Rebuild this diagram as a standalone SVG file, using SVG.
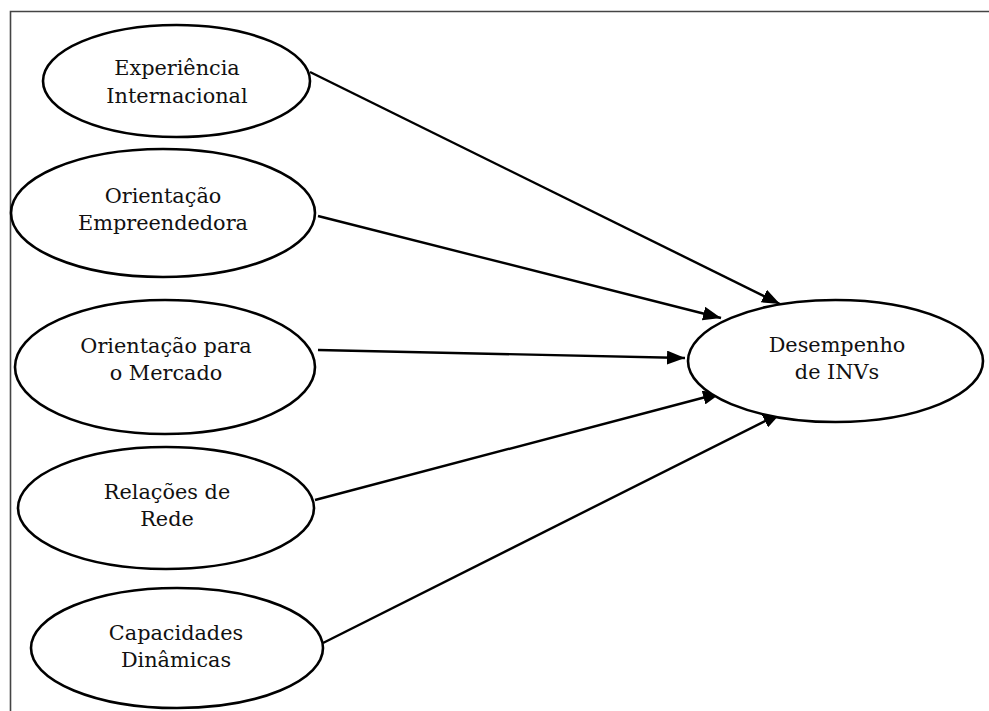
<svg xmlns="http://www.w3.org/2000/svg" width="989" height="711" viewBox="0 0 989 711">
<defs>
<marker id="ah" viewBox="0 0 18 14" refX="18" refY="7" markerWidth="18" markerHeight="14" markerUnits="userSpaceOnUse" orient="auto">
<path d="M0,0 L18,7 L0,14 Z" fill="#000"/>
</marker>
<style>
.n ellipse{fill:#fff;stroke:#000;stroke-width:2.6}
.n text{font-family:"DejaVu Serif","Liberation Serif",serif;font-size:20.8px;fill:#111;text-anchor:middle}
.c line{stroke:#000;stroke-width:2.4;marker-end:url(#ah)}
</style>
</defs>
<rect width="989" height="711" fill="#fff"/>
<path d="M10.5,711 V11.5 H989" fill="none" stroke="#444" stroke-width="1.6"/>
<g class="c" id="connectors">
<line x1="310" y1="72" x2="780" y2="304"/>
<line x1="318" y1="216" x2="721" y2="318"/>
<line x1="318" y1="350" x2="685" y2="358"/>
<line x1="315" y1="500" x2="721" y2="393"/>
<line x1="323" y1="643" x2="781" y2="413"/>
</g>
<g class="n" id="n1"><ellipse cx="176.5" cy="81" rx="133.5" ry="56"/><text x="177" y="75">Experiência</text><text x="177" y="103">Internacional</text></g>
<g class="n" id="n2"><ellipse cx="163" cy="213" rx="152" ry="64"/><text x="163" y="203">Orientação</text><text x="163" y="230">Empreendedora</text></g>
<g class="n" id="n3"><ellipse cx="165" cy="367" rx="150" ry="67"/><text x="166" y="353">Orientação para</text><text x="166" y="380">o Mercado</text></g>
<g class="n" id="n4"><ellipse cx="166" cy="508" rx="148" ry="61"/><text x="167" y="499">Relações de</text><text x="167" y="526">Rede</text></g>
<g class="n" id="n5"><ellipse cx="177" cy="648" rx="146" ry="60"/><text x="176" y="640">Capacidades</text><text x="176" y="667">Dinâmicas</text></g>
<g class="n" id="n6"><ellipse cx="835.5" cy="361" rx="147.5" ry="61"/><text x="837" y="352">Desempenho</text><text x="837" y="379">de INVs</text></g>
</svg>
